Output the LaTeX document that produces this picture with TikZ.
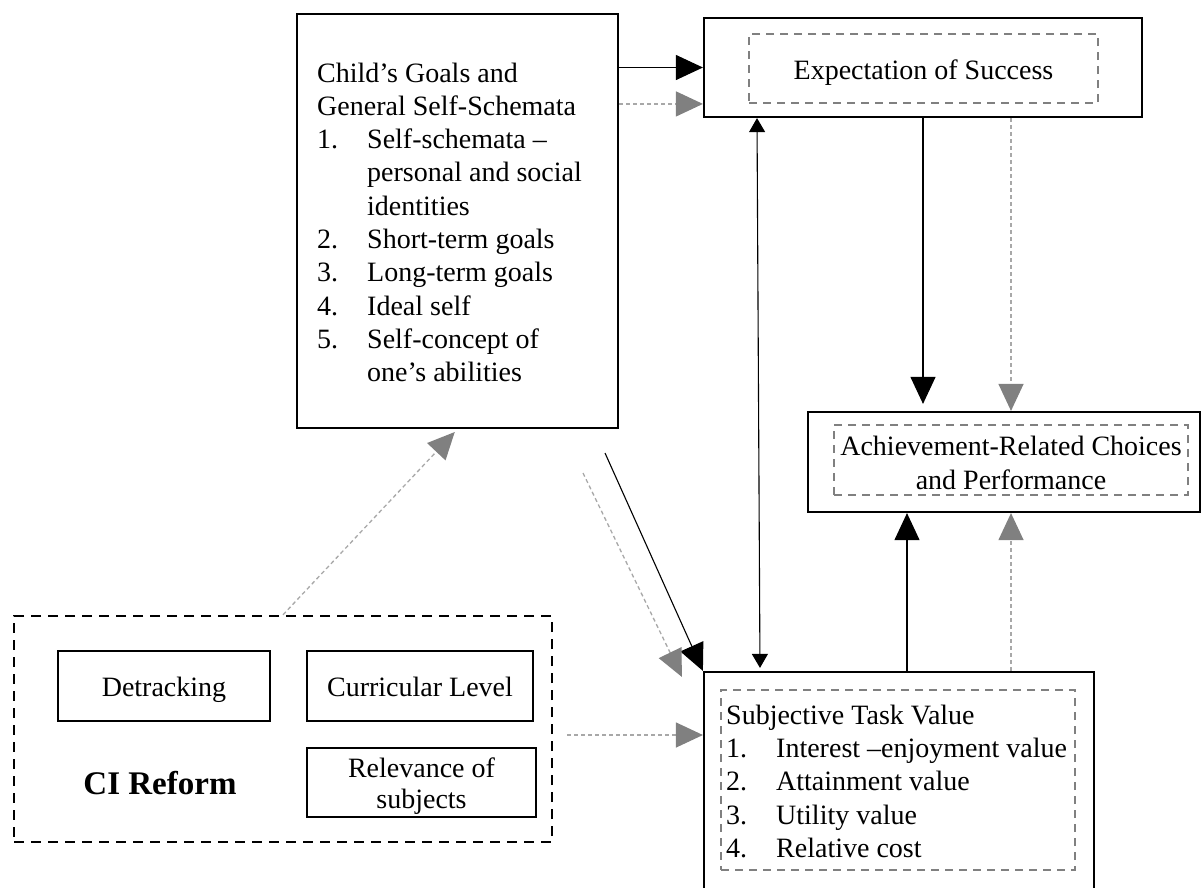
\documentclass[tikz,border=0pt]{standalone}
\usepackage{fontspec}
\setmainfont{Liberation Serif}
\usetikzlibrary{arrows.meta,calc}
\definecolor{boxgray}{HTML}{808080}
\definecolor{linegray}{HTML}{A8A8A8}
\definecolor{headgray}{HTML}{808080}

\tikzset{
  outerbox/.style={draw=black, line width=2.2pt, inner sep=0pt},
  innerbox/.style={draw=boxgray, line width=2pt, dash pattern=on 8pt off 6pt, inner sep=0pt},
  groupbox/.style={draw=black, line width=2.4pt, dash pattern=on 10pt off 7pt, inner sep=0pt},
  txt/.style={font=\fontsize{28}{33}\selectfont, inner sep=0pt},
  boxtxt/.style={txt, text height=24pt, text depth=4pt},
  bold/.style={font=\fontsize{33}{38}\selectfont\bfseries, inner sep=0pt},
  solidarrow/.style={draw=black, line width=1.1pt, -{Triangle[length=27pt,width=25pt]}},
  greyarrow/.style={draw=linegray, line width=1.3pt, dash pattern=on 4pt off 3pt,
    -{Triangle[length=27pt,width=25pt,color=headgray]}},
  twoway/.style={draw=black, line width=1.1pt,
    {Triangle[length=14pt,width=16pt]}-{Triangle[length=14pt,width=16pt]}},
}

\begin{document}
\begin{tikzpicture}[x=1pt,y=-1pt]
\useasboundingbox (0,0) rectangle (1202,887);
\fill[white] (0,0) rectangle (1202,887);

% ---- boxes ----
\node[outerbox, minimum width=321pt, minimum height=414pt] (child) at (457.5,221) {};
\node[outerbox, minimum width=438pt, minimum height=99pt] (exp) at (923,67.5) {};
\node[innerbox, minimum width=349pt, minimum height=69pt] (expin) at (923.5,68.5) {};
\node[outerbox, minimum width=392pt, minimum height=100pt] (ach) at (1004,462) {};
\node[innerbox, minimum width=354pt, minimum height=70pt] (achin) at (1011,460) {};
\node[outerbox, minimum width=390pt, minimum height=233pt] (subj) at (899,788.5) {};
\node[innerbox, minimum width=354pt, minimum height=180pt] (subjin) at (898,780) {};
\node[groupbox, minimum width=538pt, minimum height=226pt] (ci) at (283,729) {};
\node[outerbox, boxtxt, minimum width=212pt, minimum height=70pt] (det) at (164,686) {Detracking};
\node[outerbox, boxtxt, minimum width=226pt, minimum height=70pt] (cur) at (420,686) {Curricular Level};
\node[outerbox, minimum width=229pt, minimum height=69pt] (rel) at (421.5,782.5) {};
\node[txt, anchor=base] (rel1) at (421.5,777) {Relevance of};
\node[txt, anchor=base] (rel2) at (421.5,808) {subjects};
\node[bold, anchor=base] (cilabel) at (160,794) {CI Reform};

% ---- texts ----
\node[txt, anchor=base] (exptext) at (923.5,79) {Expectation of Success};
\node[txt, anchor=base] (ach1) at (1011,455) {Achievement-Related Choices};
\node[txt, anchor=base] (ach2) at (1011,489) {and Performance};

\node[txt, anchor=base west] (c1) at (317,82) {Child’s Goals and};
\node[txt, anchor=base west] (c2) at (317,115.3) {General Self-Schemata};
\node[txt, anchor=base west] (n1) at (317,148.6) {1.};
\node[txt, anchor=base west] (c3) at (367,148.6) {Self-schemata –};
\node[txt, anchor=base west] (c4) at (367,181.9) {personal and social};
\node[txt, anchor=base west] (c5) at (367,215.2) {identities};
\node[txt, anchor=base west] (n2) at (317,248.5) {2.};
\node[txt, anchor=base west] (c6) at (367,248.5) {Short-term goals};
\node[txt, anchor=base west] (n3) at (317,281.8) {3.};
\node[txt, anchor=base west] (c7) at (367,281.8) {Long-term goals};
\node[txt, anchor=base west] (n4) at (317,315.1) {4.};
\node[txt, anchor=base west] (c8) at (367,315.1) {Ideal self};
\node[txt, anchor=base west] (n5) at (317,348.4) {5.};
\node[txt, anchor=base west] (c9) at (367,348.4) {Self-concept of};
\node[txt, anchor=base west] (c10) at (367,381.7) {one’s abilities};

\node[txt, anchor=base west] (s0) at (726,724) {Subjective Task Value};
\node[txt, anchor=base west] (m1) at (726,757.6) {1.};
\node[txt, anchor=base west] (s1) at (776,757.6) {Interest –enjoyment value};
\node[txt, anchor=base west] (m2) at (726,790.9) {2.};
\node[txt, anchor=base west] (s2) at (776,790.9) {Attainment value};
\node[txt, anchor=base west] (m3) at (726,824.2) {3.};
\node[txt, anchor=base west] (s3) at (776,824.2) {Utility value};
\node[txt, anchor=base west] (m4) at (726,857.5) {4.};
\node[txt, anchor=base west] (s4) at (776,857.5) {Relative cost};

% ---- guide coordinates for connector positions ----
\coordinate (eg) at ($(exp.west)!0.72!(exp.south west)$);
\coordinate (xa) at (907,0);
\coordinate (xb) at (757,0);
\coordinate (xc) at (760,0);
\coordinate (d1) at (605,453);
\coordinate (d2) at (583,473);
\coordinate (d2e) at ($(subj.north west)+(-21,6)$);
\coordinate (g0) at (567,735);

% ---- connectors ----
\draw[solidarrow] (child.east |- exp.west) -- (exp.west);
\draw[greyarrow] (child.east |- eg) -- (eg);
\draw[solidarrow, shorten >=7pt] (exp.south) -- (exp.south |- ach.north);
\draw[greyarrow] (exp.south -| achin.north) -- (achin.north |- ach.north);
\draw[solidarrow] (subj.north -| xa) -- (ach.south -| xa);
\draw[greyarrow] (subj.north -| achin.south) -- (ach.south -| achin.south);
\draw[twoway, shorten >=3pt] (exp.south -| xb) -- (subj.north -| xc);
\draw[solidarrow] (d1) -- (subj.north west);
\draw[greyarrow] (d2) -- (d2e);
\draw[greyarrow, shorten >=4pt] (ci.north) -- (child.south);
\draw[greyarrow] (g0) -- (subj.west |- g0);
\end{tikzpicture}
\end{document}
